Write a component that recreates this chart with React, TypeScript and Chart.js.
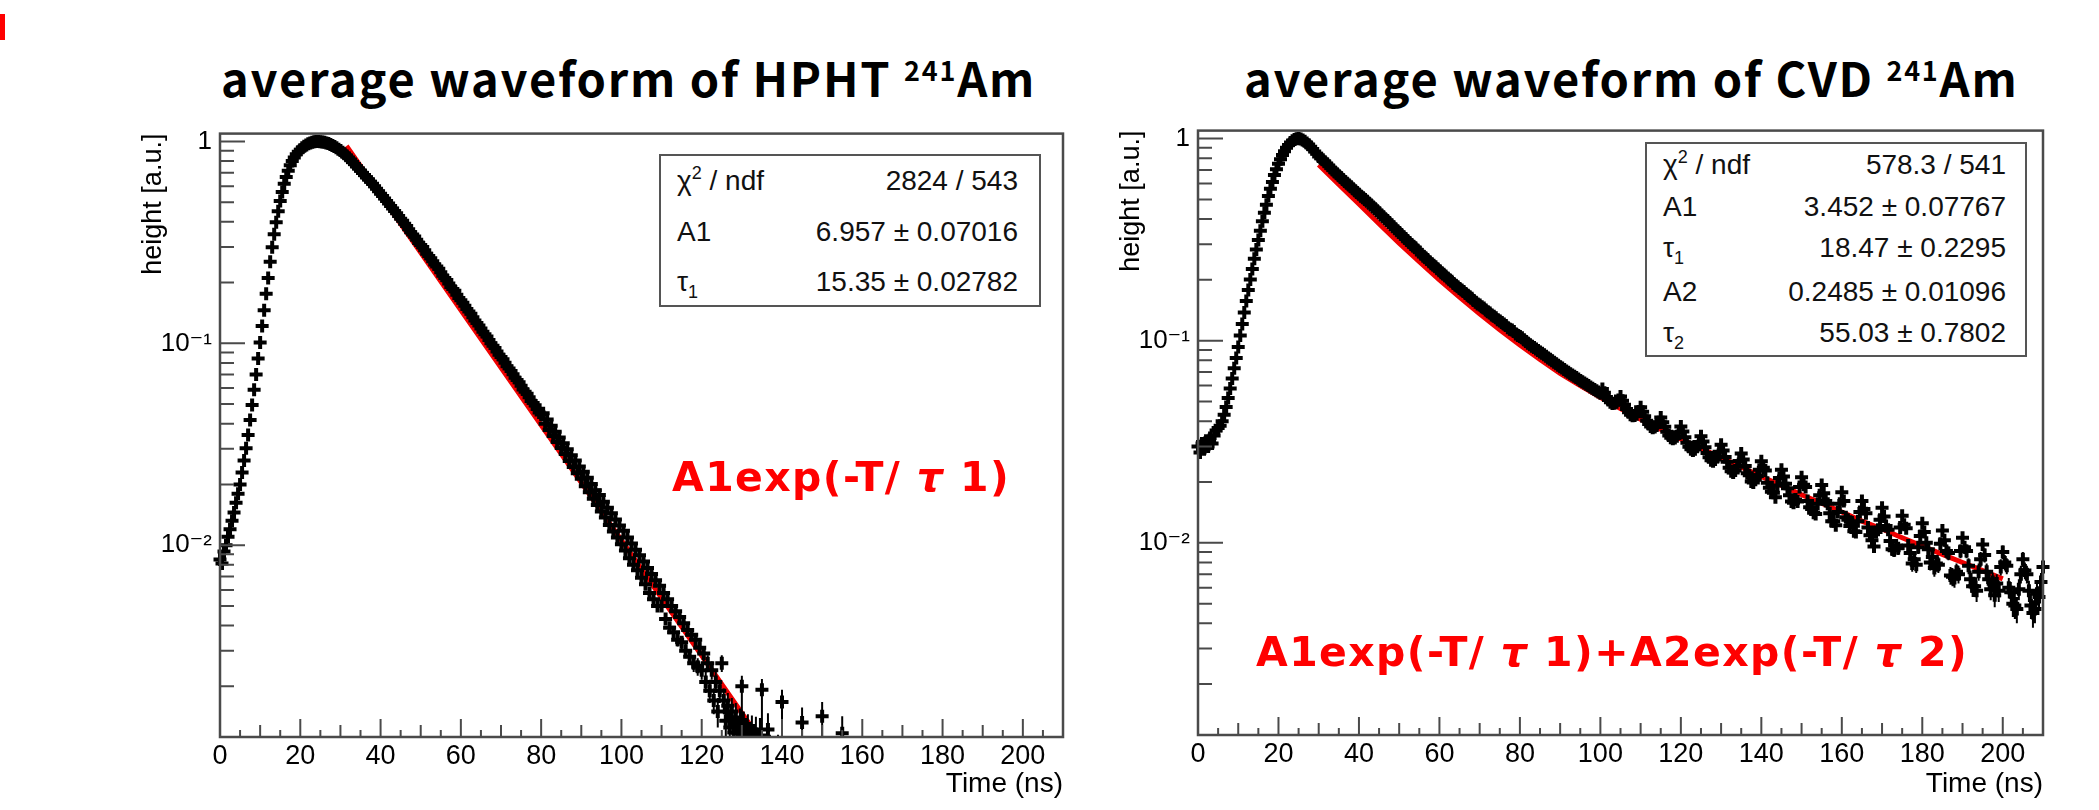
import React, { useEffect, useRef } from 'react';
import { Chart, registerables } from 'chart.js';

Chart.register(...registerables);

// ---------------- data ----------------
// time bins (ns)
const TIME_NS = [
  0, 0.5, 1, 1.5, 2, 2.5, 3, 3.5, 4, 4.5, 5, 5.5, 6, 6.5, 7, 7.5, 8, 8.5, 9, 9.5,
  10, 10.5, 11, 11.5, 12, 12.5, 13, 13.5, 14, 14.5, 15, 15.5, 16, 16.5, 17, 17.5, 18, 18.5, 19, 19.5,
  20, 20.5, 21, 21.5, 22, 22.5, 23, 23.5, 24, 24.5, 25, 25.5, 26, 26.5, 27, 27.5, 28, 28.5, 29, 29.5,
  30, 30.5, 31, 31.5, 32, 32.5, 33, 33.5, 34, 34.5, 35, 35.5, 36, 36.5, 37, 37.5, 38, 38.5, 39, 39.5,
  40, 40.5, 41, 41.5, 42, 42.5, 43, 43.5, 44, 44.5, 45, 45.5, 46, 46.5, 47, 47.5, 48, 48.5, 49, 49.5,
  50, 50.5, 51, 51.5, 52, 52.5, 53, 53.5, 54, 54.5, 55, 55.5, 56, 56.5, 57, 57.5, 58, 58.5, 59, 59.5,
  60, 60.5, 61, 61.5, 62, 62.5, 63, 63.5, 64, 64.5, 65, 65.5, 66, 66.5, 67, 67.5, 68, 68.5, 69, 69.5,
  70, 70.5, 71, 71.5, 72, 72.5, 73, 73.5, 74, 74.5, 75, 75.5, 76, 76.5, 77, 77.5, 78, 78.5, 79, 79.5,
  80, 80.5, 81, 81.5, 82, 82.5, 83, 83.5, 84, 84.5, 85, 85.5, 86, 86.5, 87, 87.5, 88, 88.5, 89, 89.5,
  90, 90.5, 91, 91.5, 92, 92.5, 93, 93.5, 94, 94.5, 95, 95.5, 96, 96.5, 97, 97.5, 98, 98.5, 99, 99.5,
  100, 100.5, 101, 101.5, 102, 102.5, 103, 103.5, 104, 104.5, 105, 105.5, 106, 106.5, 107, 107.5, 108, 108.5, 109, 109.5,
  110, 110.5, 111, 111.5, 112, 112.5, 113, 113.5, 114, 114.5, 115, 115.5, 116, 116.5, 117, 117.5, 118, 118.5, 119, 119.5,
  120, 120.5, 121, 121.5, 122, 122.5, 123, 123.5, 124, 124.5, 125, 125.5, 126, 126.5, 127, 127.5, 128, 128.5, 129, 129.5,
  130, 130.5, 131, 131.5, 132, 132.5, 133, 133.5, 134, 134.5, 135, 135.5, 136, 136.5, 137, 137.5, 138, 138.5, 139, 139.5,
  140, 140.5, 141, 141.5, 142, 142.5, 143, 143.5, 144, 144.5, 145, 145.5, 146, 146.5, 147, 147.5, 148, 148.5, 149, 149.5,
  150, 150.5, 151, 151.5, 152, 152.5, 153, 153.5, 154, 154.5, 155, 155.5, 156, 156.5, 157, 157.5, 158, 158.5, 159, 159.5,
  160, 160.5, 161, 161.5, 162, 162.5, 163, 163.5, 164, 164.5, 165, 165.5, 166, 166.5, 167, 167.5, 168, 168.5, 169, 169.5,
  170, 170.5, 171, 171.5, 172, 172.5, 173, 173.5, 174, 174.5, 175, 175.5, 176, 176.5, 177, 177.5, 178, 178.5, 179, 179.5,
  180, 180.5, 181, 181.5, 182, 182.5, 183, 183.5, 184, 184.5, 185, 185.5, 186, 186.5, 187, 187.5, 188, 188.5, 189, 189.5,
  190, 190.5, 191, 191.5, 192, 192.5, 193, 193.5, 194, 194.5, 195, 195.5, 196, 196.5, 197, 197.5, 198, 198.5, 199, 199.5,
  200, 200.5, 201, 201.5, 202, 202.5, 203, 203.5, 204, 204.5, 205, 205.5, 206, 206.5, 207, 207.5, 208, 208.5, 209, 209.5,
  210,
];

// HPHT average waveform (height, a.u.)
const HPHT_HEIGHT = [
  0.0085, 0.0081, 0.0093, 0.0100, 0.0110, 0.0120, 0.0132, 0.0145, 0.0162, 0.0180,
  0.0200, 0.0229, 0.0263, 0.0302, 0.0351, 0.0417, 0.0495, 0.0589, 0.0700, 0.0841,
  0.101, 0.122, 0.146, 0.176, 0.211, 0.254, 0.299, 0.347, 0.398, 0.452,
  0.507, 0.562, 0.617, 0.668, 0.716, 0.762, 0.800, 0.834, 0.864, 0.890,
  0.912, 0.931, 0.948, 0.962, 0.974, 0.984, 0.992, 0.997, 1.0, 1.0,
  0.999, 0.996, 0.991, 0.985, 0.977, 0.967, 0.956, 0.944, 0.931, 0.917,
  0.902, 0.886, 0.869, 0.851, 0.832, 0.812, 0.792, 0.773, 0.754, 0.735,
  0.717, 0.699, 0.682, 0.665, 0.649, 0.633, 0.617, 0.600, 0.583, 0.567,
  0.552, 0.537, 0.522, 0.507, 0.493, 0.479, 0.466, 0.453, 0.441, 0.428,
  0.415, 0.405, 0.391, 0.381, 0.368, 0.355, 0.346, 0.338, 0.326, 0.314,
  0.307, 0.300, 0.289, 0.278, 0.271, 0.264, 0.255, 0.246, 0.240, 0.234,
  0.225, 0.216, 0.211, 0.206, 0.198, 0.190, 0.186, 0.182, 0.174, 0.168,
  0.1636, 0.1590, 0.1534, 0.1478, 0.1437, 0.1400, 0.1346, 0.1297, 0.1262, 0.1225,
  0.1184, 0.1140, 0.1109, 0.1080, 0.1039, 0.1000, 0.0973, 0.0948, 0.0912, 0.0878,
  0.0855, 0.0835, 0.0801, 0.0770, 0.0750, 0.0730, 0.0703, 0.0676, 0.0658, 0.0642,
  0.0616, 0.0590, 0.0576, 0.0562, 0.0540, 0.0518, 0.0506, 0.0494, 0.0473, 0.0454,
  0.0444, 0.0451, 0.0399, 0.0419, 0.0372, 0.0391, 0.0347, 0.0365, 0.0324, 0.0342,
  0.0303, 0.0320, 0.0283, 0.0299, 0.0261, 0.0279, 0.0244, 0.0263, 0.0227, 0.0245,
  0.0213, 0.0231, 0.0196, 0.0216, 0.0183, 0.0201, 0.0170, 0.0187, 0.0158, 0.0177,
  0.0147, 0.0164, 0.0137, 0.0153, 0.0126, 0.0144, 0.0117, 0.0134, 0.0109, 0.0125,
  0.0101, 0.0118, 0.0094, 0.0109, 0.0086, 0.0102, 0.0080, 0.0095, 0.0075, 0.0089,
  0.0069, 0.0083, 0.0064, 0.0077, 0.0058, 0.0072, 0.0054, 0.0067, 0.0050, 0.0063,
  0.0050, 0.0058, 0.0043, 0.0054, 0.0039, 0.0050, 0.0037, 0.0047, 0.0034, 0.0044,
  0.0033, 0.0041, 0.0030, 0.0038, 0.0028, 0.0036, 0.0026, 0.0034, 0.0025, 0.0031,
  0.0024, 0.0029, 0.0021, 0.0026, 0.0019, 0.0024, 0.0017, 0.0021, 0.0015, 0.0019,
  0.0026, 0.0017, 0.00135, 0.0016, 0.00125, 0.0015, 0.00118, 0.0014, 0.00117, 0.0013,
  0.0020, 0.00125, 0.00114, 0.0012, 0.00108, 0.00118, 0.00105, 0.00116, 0.0010, 0.00114,
  0.00192, 0.0009, 0.0008, 0.00122, 0.0009, 0.0007, 0.0008, 0.0006, 0.0009, 0.0007,
  0.00167, 0.0008, 0.0006, 0.0007, 0.0005, 0.0008, 0.0006, 0.0007, 0.0005, 0.0006,
  0.00132, 0.0007, 0.0005, 0.0006, 0.0004, 0.0007, 0.0005, 0.0006, 0.0004, 0.0005,
  0.00142, 0.0006, 0.0004, 0.0005, 0.0003, 0.0006, 0.0004, 0.0005, 0.0003, 0.0004,
  0.00117, 0.0005, 0.0003, 0.0004, 0.0003, 0.0005, 0.0003, 0.0004, 0.0003, 0.0004,
  0.0008, 0.0004, 0.0003, 0.0004, 0.0003, 0.0004, 0.0003, 0.0004, 0.0003, 0.0004,
  0.0008, 0.0004, 0.0003, 0.0004, 0.0003, 0.0004, 0.0003, 0.0004, 0.0003, 0.0004,
  0.0008, 0.0004, 0.0003, 0.0004, 0.0003, 0.0004, 0.0003, 0.0004, 0.0003, 0.0004,
  0.0008, 0.0004, 0.0003, 0.0004, 0.0003, 0.0004, 0.0003, 0.0004, 0.0003, 0.0004,
  0.0008, 0.0004, 0.0003, 0.0004, 0.0003, 0.0004, 0.0003, 0.0004, 0.0003, 0.0004,
  0.0008, 0.0004, 0.0003, 0.0004, 0.0003, 0.0004, 0.0003, 0.0004, 0.0003, 0.0004,
  0.0008, 0.0004, 0.0003, 0.0004, 0.0003, 0.0004, 0.0003, 0.0004, 0.0003, 0.0004,
  0.0008, 0.0004, 0.0003, 0.0004, 0.0003, 0.0004, 0.0003, 0.0004, 0.0003, 0.0004,
  0.0008, 0.0004, 0.0003, 0.0004, 0.0003, 0.0004, 0.0003, 0.0004, 0.0003, 0.0004,
  0.0008, 0.0004, 0.0003, 0.0004, 0.0003, 0.0004, 0.0003, 0.0004, 0.0003, 0.0004,
  0.0008,
];

// CVD average waveform (height, a.u.)
const CVD_HEIGHT = [
  0.030, 0.028, 0.031, 0.029, 0.032, 0.030, 0.033, 0.031, 0.034, 0.036,
  0.037, 0.038, 0.040, 0.043, 0.047, 0.052, 0.058, 0.065, 0.073, 0.082,
  0.093, 0.106, 0.121, 0.138, 0.157, 0.178, 0.201, 0.226, 0.254, 0.283,
  0.315, 0.350, 0.390, 0.430, 0.470, 0.520, 0.565, 0.610, 0.660, 0.705,
  0.750, 0.790, 0.830, 0.865, 0.900, 0.930, 0.955, 0.975, 0.990, 0.998,
  1.0, 0.996, 0.985, 0.970, 0.952, 0.932, 0.910, 0.887, 0.863, 0.840,
  0.815, 0.800, 0.785, 0.767, 0.750, 0.733, 0.716, 0.700, 0.684, 0.669,
  0.654, 0.641, 0.628, 0.614, 0.601, 0.589, 0.577, 0.564, 0.552, 0.541,
  0.530, 0.519, 0.509, 0.499, 0.489, 0.479, 0.469, 0.459, 0.449, 0.439,
  0.429, 0.419, 0.410, 0.401, 0.393, 0.384, 0.375, 0.366, 0.358, 0.350,
  0.343, 0.335, 0.327, 0.320, 0.313, 0.306, 0.299, 0.293, 0.288, 0.281,
  0.275, 0.268, 0.262, 0.257, 0.252, 0.246, 0.240, 0.236, 0.232, 0.227,
  0.222, 0.217, 0.213, 0.209, 0.204, 0.200, 0.197, 0.192, 0.188, 0.185,
  0.181, 0.178, 0.175, 0.171, 0.168, 0.165, 0.162, 0.158, 0.155, 0.152,
  0.150, 0.147, 0.145, 0.142, 0.139, 0.137, 0.134, 0.132, 0.130, 0.127,
  0.125, 0.123, 0.121, 0.119, 0.116, 0.114, 0.113, 0.111, 0.108, 0.106,
  0.105, 0.1035, 0.101, 0.0992, 0.097, 0.0955, 0.094, 0.0925, 0.091, 0.0895,
  0.088, 0.0866, 0.0852, 0.0837, 0.0822, 0.0809, 0.0796, 0.0782, 0.0768, 0.0756,
  0.0744, 0.0732, 0.0721, 0.0709, 0.0698, 0.0687, 0.0676, 0.0666, 0.0657, 0.0646,
  0.0636, 0.0626, 0.0617, 0.0608, 0.0600, 0.0590, 0.0581, 0.0573, 0.0566, 0.0557,
  0.0549, 0.0576, 0.0552, 0.0526, 0.0509, 0.0496, 0.0489, 0.0491, 0.0496, 0.0509,
  0.0530, 0.0505, 0.0482, 0.0459, 0.0443, 0.0430, 0.0425, 0.0427, 0.0433, 0.0447,
  0.0469, 0.0445, 0.0423, 0.0402, 0.0387, 0.0376, 0.0371, 0.0374, 0.0381, 0.0395,
  0.0417, 0.0395, 0.0375, 0.0354, 0.0340, 0.0331, 0.0327, 0.0330, 0.0337, 0.0352,
  0.0376, 0.0355, 0.0333, 0.0313, 0.0299, 0.0290, 0.0286, 0.0290, 0.0299, 0.0315,
  0.0337, 0.0317, 0.0297, 0.0278, 0.0265, 0.0256, 0.0253, 0.0258, 0.0266, 0.0282,
  0.0306, 0.0286, 0.0266, 0.0252, 0.0235, 0.0226, 0.0223, 0.0228, 0.0238, 0.0254,
  0.0277, 0.0258, 0.0240, 0.0221, 0.0216, 0.0201, 0.0199, 0.0205, 0.0214, 0.0230,
  0.0253, 0.0235, 0.0228, 0.0198, 0.0187, 0.0179, 0.0177, 0.0168, 0.0192, 0.0209,
  0.0230, 0.0213, 0.0196, 0.0186, 0.0172, 0.0160, 0.0158, 0.0164, 0.0160, 0.0189,
  0.0211, 0.0194, 0.0189, 0.0161, 0.0150, 0.0147, 0.0141, 0.0139, 0.0156, 0.0172,
  0.0193, 0.0176, 0.0161, 0.0156, 0.0140, 0.0128, 0.0128, 0.0122, 0.0142, 0.0156,
  0.0178, 0.0161, 0.0134, 0.0130, 0.0121, 0.0126, 0.0114, 0.0113, 0.0128, 0.0142,
  0.0161, 0.0147, 0.0140, 0.0119, 0.0109, 0.0103, 0.0096, 0.0113, 0.0116, 0.0130,
  0.0149, 0.0135, 0.0121, 0.0116, 0.0102, 0.0093, 0.0092, 0.0097, 0.0094, 0.0119,
  0.0136, 0.0123, 0.0118, 0.0097, 0.0089, 0.0079, 0.0083, 0.0078, 0.0095, 0.0108,
  0.0125, 0.0113, 0.0100, 0.0093, 0.0080, 0.0085, 0.0075, 0.0079, 0.0078, 0.0099,
  0.0115, 0.0103, 0.0091, 0.0089, 0.0069, 0.0068, 0.0067, 0.0072, 0.0070, 0.0091,
  0.0106, 0.0095, 0.0091, 0.0077, 0.0066, 0.0061, 0.0061, 0.0058, 0.0072, 0.0083,
  0.0098, 0.0087, 0.0072, 0.0066, 0.0059, 0.0064, 0.0055, 0.0063, 0.0058, 0.0076,
  0.0090, 0.0080, 0.0077, 0.0060, 0.0057, 0.0050, 0.0049, 0.0047, 0.0059, 0.0070,
  0.0083, 0.0073, 0.0070, 0.0058, 0.0049, 0.0045, 0.0047, 0.0056, 0.0054, 0.0064,
  0.0076,
];

// fit curves (red)
const HPHT_FIT_TIME = [31.5, 60, 90, 120, 134];
const HPHT_FIT_HEIGHT = [0.95, 0.146, 0.0204, 0.00284, 0.00113];

const CVD_FIT_TIME = [
  30, 35, 40, 45, 50, 55, 60, 65, 70, 75, 80, 85, 90, 95, 100, 105, 110, 115,
  120, 125, 130, 135, 140, 145, 150, 155, 160, 165, 170, 175, 180, 185, 190, 195, 200,
];
const CVD_FIT_HEIGHT = [
  0.742, 0.592, 0.475, 0.379, 0.304, 0.246, 0.200, 0.1642, 0.1359, 0.1133, 0.0952, 0.0807,
  0.0688, 0.0599, 0.0525, 0.0462, 0.0409, 0.0365, 0.0326, 0.0293, 0.0264, 0.0237, 0.0213,
  0.0192, 0.0173, 0.0157, 0.0142, 0.0128, 0.0117, 0.0106, 0.00964, 0.00877, 0.00799,
  0.00728, 0.00663,
];

// isolated tail points in the HPHT panel whose error bars reach the axis
const HPHT_STEM_TIMES = [130, 135, 140, 145, 150, 155];
const HPHT_ERROR = 0.00025;
const CVD_ERROR = 0.0007;

const X_MIN = 0;
const X_MAX = 210;
const Y_MIN = 0.00112;
const Y_MAX = 1.095;
const X_TICKS = [0, 20, 40, 60, 80, 100, 120, 140, 160, 180, 200];
const Y_TICKS = [0.01, 0.1, 1];
const Y_TICK_LABELS = ['10\u207B\u00B2', '10\u207B\u00B9', '1'];

// ---------------- style ----------------
const ROOT_FONT = "'Liberation Sans', Arial, Helvetica, 'DejaVu Sans', sans-serif";
const TITLE_FONT = "'Noto Sans CJK JP', 'Noto Sans', sans-serif";
const FORMULA_FONT = "'DejaVu Sans', 'Noto Sans CJK JP', sans-serif";
const AXIS_COLOR = '#4a4a4a';
const FIT_RED = '#f00000';

function makeRootPlugin(err: number, stemTimes: number[]) {
  return {
    id: 'rootStyle',
    afterDatasetDraw(chart: any, args: any) {
      if (args.index !== 0) return;
      const { ctx, chartArea: a } = chart;
      const xs = chart.scales.x;
      const ys = chart.scales.y;
      const pts = chart.data.datasets[0].data as { x: number; y: number }[];
      ctx.save();
      ctx.beginPath();
      ctx.rect(a.left, a.top, a.right - a.left, a.bottom - a.top);
      ctx.clip();
      ctx.strokeStyle = '#000';
      ctx.lineWidth = 2;
      ctx.beginPath();
      pts.forEach((p) => {
        const x = xs.getPixelForValue(p.x);
        const top = ys.getPixelForValue(p.y + err);
        const lo = p.y - err;
        const bot = lo > 0 ? Math.min(ys.getPixelForValue(lo), a.bottom) : a.bottom;
        ctx.moveTo(x, top);
        ctx.lineTo(x, bot);
      });
      stemTimes.forEach((t) => {
        const p = pts.find((q) => q.x === t);
        if (!p) return;
        const x = xs.getPixelForValue(p.x);
        ctx.moveTo(x, ys.getPixelForValue(p.y));
        ctx.lineTo(x, a.bottom);
      });
      ctx.stroke();
      ctx.restore();
    },
    afterDraw(chart: any) {
      const { ctx, chartArea: a } = chart;
      const xs = chart.scales.x;
      const ys = chart.scales.y;
      ctx.save();
      ctx.strokeStyle = AXIS_COLOR;
      ctx.lineWidth = 2;
      ctx.beginPath();
      for (let v = X_MIN; v <= X_MAX; v += 5) {
        const x = xs.getPixelForValue(v);
        const len = v % 20 === 0 ? 18 : v % 10 === 0 ? 12 : 7;
        ctx.moveTo(x, a.bottom);
        ctx.lineTo(x, a.bottom - len);
      }
      for (let d = -3; d <= 0; d++) {
        for (let k = 1; k <= 9; k++) {
          const v = k * Math.pow(10, d);
          if (v < Y_MIN || v > Y_MAX) continue;
          const y = ys.getPixelForValue(v);
          ctx.moveTo(a.left, y);
          ctx.lineTo(a.left + (k === 1 ? 25 : 14), y);
        }
      }
      ctx.stroke();
      ctx.lineWidth = 2.5;
      ctx.strokeRect(a.left, a.top, a.right - a.left, a.bottom - a.top);
      ctx.restore();
    },
  };
}

type PanelProps = {
  heights: number[];
  fitTime: number[];
  fitHeight: number[];
  err: number;
  stemTimes: number[];
  left: number;
  top: number;
  width: number;
  height: number;
  padTop: number;
  padRight: number;
  yAxisWidth: number;
  xAxisHeight: number;
};

function WaveformPanel(p: PanelProps) {
  const ref = useRef<HTMLCanvasElement>(null);
  useEffect(() => {
    const canvas = ref.current;
    if (!canvas) return;
    const points = TIME_NS.map((t, i) => ({ x: t, y: p.heights[i] }));
    const fit = p.fitTime.map((t, i) => ({ x: t, y: p.fitHeight[i] }));
    const chart = new Chart(canvas, {
      type: 'scatter',
      data: {
        datasets: [
          {
            data: points,
            pointStyle: 'cross',
            pointRadius: 6.5,
            pointBorderWidth: 4,
            borderColor: '#000',
            backgroundColor: '#000',
            showLine: false,
            clip: { left: 8, top: 8, right: 8, bottom: 0 },
          } as any,
          {
            type: 'line',
            data: fit,
            borderColor: FIT_RED,
            borderWidth: 5,
            pointRadius: 0,
            showLine: true,
            tension: 0,
            fill: false,
          } as any,
        ],
      },
      options: {
        responsive: false,
        animation: false,
        events: [],
        layout: { padding: { top: p.padTop, right: p.padRight, left: 0, bottom: 0 } },
        plugins: {
          legend: { display: false },
          tooltip: { enabled: false },
        },
        scales: {
          x: {
            type: 'linear',
            min: X_MIN,
            max: X_MAX,
            grid: { display: false, drawTicks: false },
            border: { display: false },
            afterBuildTicks: (s: any) => {
              s.ticks = X_TICKS.map((v) => ({ value: v }));
            },
            afterFit: (s: any) => {
              s.height = p.xAxisHeight;
            },
            ticks: {
              padding: 3,
              color: '#000',
              maxRotation: 0,
              autoSkip: false,
              font: { family: ROOT_FONT, size: 27 },
            },
            title: {
              display: true,
              text: 'Time (ns)',
              align: 'end',
              color: '#000',
              font: { family: ROOT_FONT, size: 28 },
              padding: { top: 0, bottom: 9 },
            },
          },
          y: {
            type: 'logarithmic',
            min: Y_MIN,
            max: Y_MAX,
            grid: { display: false, drawTicks: false },
            border: { display: false },
            afterBuildTicks: (s: any) => {
              s.ticks = Y_TICKS.map((v) => ({ value: v }));
            },
            afterFit: (s: any) => {
              s.width = p.yAxisWidth;
            },
            ticks: {
              padding: 8,
              color: '#000',
              autoSkip: false,
              font: { family: ROOT_FONT, size: 26 },
              callback: (v: any) => {
                const i = Y_TICKS.indexOf(Number(v));
                return i >= 0 ? Y_TICK_LABELS[i] : '';
              },
            },
            title: {
              display: true,
              text: 'height [a.u.]',
              align: 'end',
              color: '#000',
              font: { family: ROOT_FONT, size: 27 },
              padding: { top: 37, bottom: 0 },
            },
          },
        },
      } as any,
      plugins: [makeRootPlugin(p.err, p.stemTimes)],
    });
    return () => chart.destroy();
  }, []);
  return (
    <canvas
      ref={ref}
      width={p.width}
      height={p.height}
      style={{ position: 'absolute', left: p.left, top: p.top, width: p.width, height: p.height }}
    />
  );
}

const STAT_FS = 28;
function StatRow(props: { label: React.ReactNode; value: string; lx: number; rx: number; base: number }) {
  const top = props.base - 0.8465 * STAT_FS;
  const common: React.CSSProperties = {
    position: 'absolute',
    top,
    font: `${STAT_FS}px ${ROOT_FONT}`,
    lineHeight: `${STAT_FS}px`,
    whiteSpace: 'nowrap',
    color: '#111',
  };
  return (
    <>
      <div style={{ ...common, left: props.lx }}>{props.label}</div>
      <div style={{ ...common, right: 2099 - props.rx, textAlign: 'right' }}>{props.value}</div>
    </>
  );
}

const supStyle: React.CSSProperties = { fontSize: 18, position: 'relative', top: -11 };
const subStyle: React.CSSProperties = { fontSize: 18, position: 'relative', top: 7 };

function Title(props: { left: number; text: string }) {
  return (
    <div
      style={{
        position: 'absolute',
        left: props.left,
        top: 53,
        font: `bold 47px ${TITLE_FONT}`,
        lineHeight: '47px',
        letterSpacing: '1.8px',
        whiteSpace: 'nowrap',
        color: '#000',
      }}
    >
      {props.text}
      <span style={{ fontSize: 27, position: 'relative', top: -16 }}>241</span>Am
    </div>
  );
}

function Formula(props: { left: number; top: number; children: React.ReactNode }) {
  return (
    <div
      style={{
        position: 'absolute',
        left: props.left,
        top: props.top,
        font: `bold 41px ${FORMULA_FONT}`,
        lineHeight: '41px',
        letterSpacing: '1.4px',
        whiteSpace: 'nowrap',
        color: '#ff0000',
      }}
    >
      {props.children}
    </div>
  );
}

export default function App() {
  return (
    <div
      style={{
        position: 'absolute',
        left: 0,
        top: 0,
        width: 2099,
        height: 810,
        background: '#fff',
        overflow: 'hidden',
      }}
    >
      <div style={{ position: 'absolute', left: 0, top: 14, width: 5, height: 26, background: '#ff0000' }} />

      <Title left={221} text="average waveform of HPHT " />
      <Title left={1244} text="average waveform of CVD " />

      <WaveformPanel
        heights={HPHT_HEIGHT}
        fitTime={HPHT_FIT_TIME}
        fitHeight={HPHT_FIT_HEIGHT}
        err={HPHT_ERROR}
        stemTimes={HPHT_STEM_TIMES}
        left={100}
        top={110}
        width={975}
        height={700}
        padTop={20}
        padRight={12}
        yAxisWidth={120}
        xAxisHeight={73}
      />
      <WaveformPanel
        heights={CVD_HEIGHT}
        fitTime={CVD_FIT_TIME}
        fitHeight={CVD_FIT_HEIGHT}
        err={CVD_ERROR}
        stemTimes={[]}
        left={1078}
        top={107}
        width={990}
        height={703}
        padTop={20}
        padRight={25}
        yAxisWidth={120}
        xAxisHeight={75}
      />

      {/* HPHT stat box */}
      <div
        style={{
          position: 'absolute',
          left: 659,
          top: 154,
          width: 382,
          height: 153,
          border: '2px solid #555',
          boxSizing: 'border-box',
          background: '#fff',
        }}
      />
      <StatRow lx={677} rx={1018} base={191} label={<span>χ<span style={supStyle}>2</span> / ndf</span>} value="2824 / 543" />
      <StatRow lx={677} rx={1018} base={242} label="A1" value="6.957 ± 0.07016" />
      <StatRow lx={677} rx={1018} base={292} label={<span>τ<span style={subStyle}>1</span></span>} value="15.35 ± 0.02782" />

      {/* CVD stat box */}
      <div
        style={{
          position: 'absolute',
          left: 1645,
          top: 142,
          width: 382,
          height: 215,
          border: '2px solid #555',
          boxSizing: 'border-box',
          background: '#fff',
        }}
      />
      <StatRow lx={1663} rx={2006} base={175} label={<span>χ<span style={supStyle}>2</span> / ndf</span>} value="578.3 / 541" />
      <StatRow lx={1663} rx={2006} base={217} label="A1" value="3.452 ± 0.07767" />
      <StatRow lx={1663} rx={2006} base={258} label={<span>τ<span style={subStyle}>1</span></span>} value="18.47 ± 0.2295" />
      <StatRow lx={1663} rx={2006} base={302} label="A2" value="0.2485 ± 0.01096" />
      <StatRow lx={1663} rx={2006} base={343} label={<span>τ<span style={subStyle}>2</span></span>} value="55.03 ± 0.7802" />

      {/* fit function annotations */}
      <Formula left={672} top={457}>
        A1exp(-T/ <i>τ</i> 1)
      </Formula>
      <Formula left={1256} top={632}>
        A1exp(-T/ <i>τ</i> 1)+A2exp(-T/ <i>τ</i> 2)
      </Formula>
    </div>
  );
}
